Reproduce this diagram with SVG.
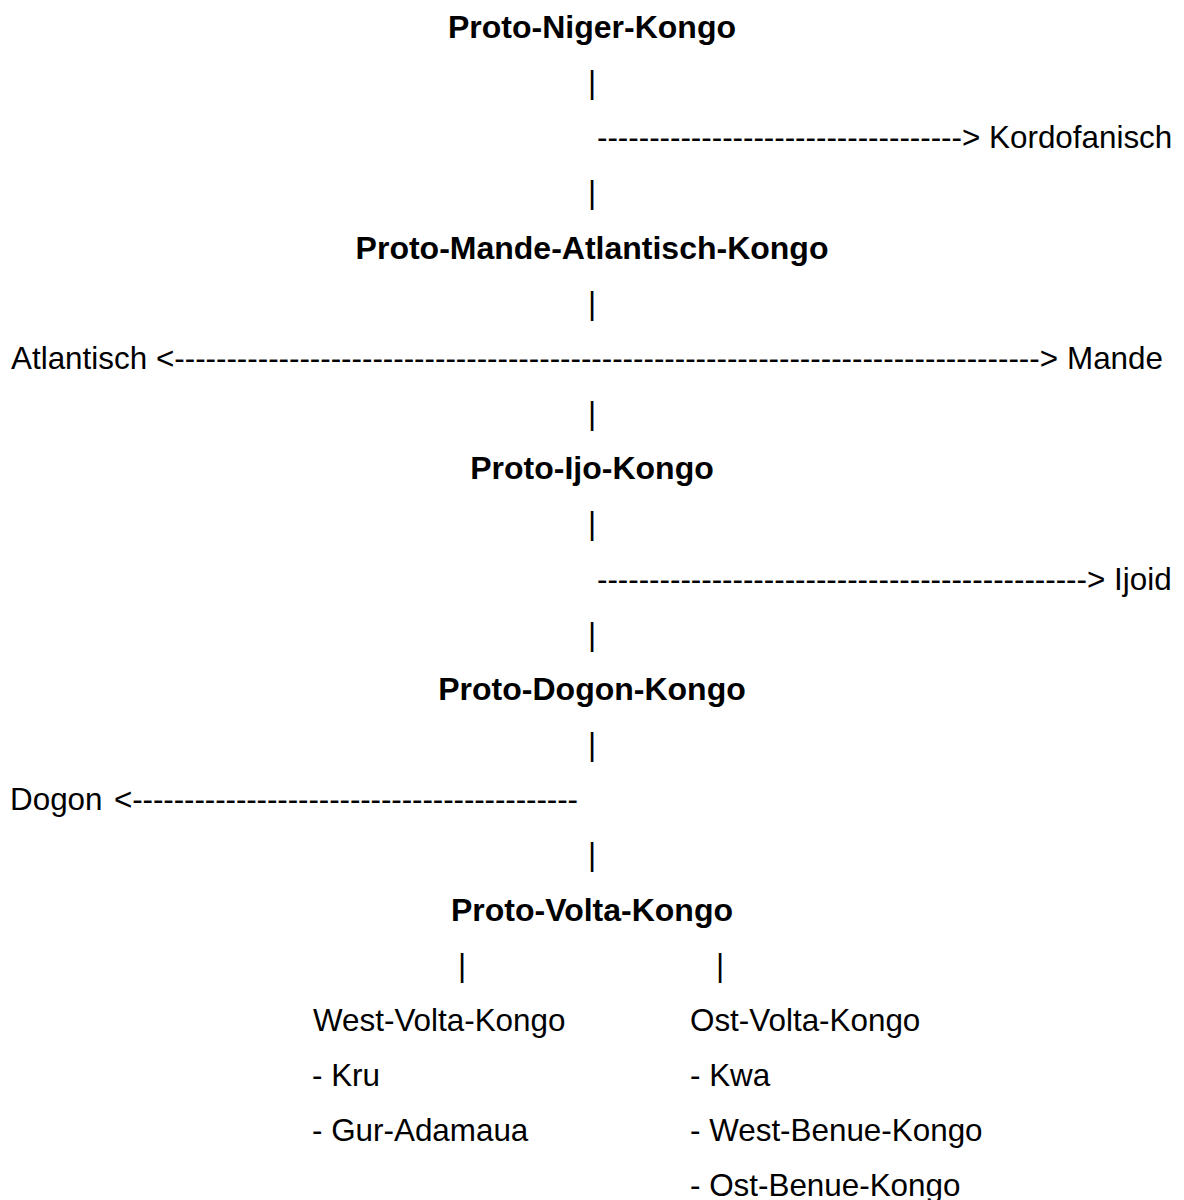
<svg xmlns="http://www.w3.org/2000/svg" width="1184" height="1200" viewBox="0 0 1184 1200">
<style>
text{font-family:"Liberation Sans",Arial,sans-serif;font-size:31.4px;fill:#000}
.b{font-weight:bold;text-anchor:middle;font-size:32px}
.p{text-anchor:middle}
</style>
<rect width="1184" height="1200" fill="#fff"/>
<g id="connectors">
<text class="p" x="592" y="92.5">|</text>
<text x="597" y="148" textLength="365" lengthAdjust="spacing">-----------------------------------</text>
<text class="p" x="592" y="203">|</text>
<text class="p" x="592" y="313.5">|</text>
<text x="156" y="368.5" textLength="902" lengthAdjust="spacing">&lt;-----------------------------------------------------------------------------------&gt;</text>
<text class="p" x="592" y="424">|</text>
<text class="p" x="592" y="534">|</text>
<text x="597" y="589.5" textLength="490" lengthAdjust="spacing">-----------------------------------------------</text>
<text class="p" x="592" y="644.5">|</text>
<text class="p" x="592" y="755">|</text>
<text x="114" y="810" textLength="464" lengthAdjust="spacing">&lt;-------------------------------------------</text>
<text class="p" x="592" y="865">|</text>
<text class="p" x="462" y="975.5">|</text>
<text class="p" x="720" y="975.5">|</text>
</g>
<g id="proto-niger-kongo"><text class="b" x="592" y="37.5">Proto-Niger-Kongo</text></g>
<g id="kordofanisch"><text x="962" y="148">&gt; Kordofanisch</text></g>
<g id="proto-mande-atlantisch-kongo"><text class="b" x="592" y="258.5">Proto-Mande-Atlantisch-Kongo</text></g>
<g id="atlantisch"><text x="11" y="368.5">Atlantisch</text></g>
<g id="mande"><text x="1067" y="368.5">Mande</text></g>
<g id="proto-ijo-kongo"><text class="b" x="592" y="479">Proto-Ijo-Kongo</text></g>
<g id="ijoid"><text x="1087" y="589.5">&gt; Ijoid</text></g>
<g id="proto-dogon-kongo"><text class="b" x="592" y="699.5">Proto-Dogon-Kongo</text></g>
<g id="dogon"><text x="10" y="810">Dogon</text></g>
<g id="proto-volta-kongo"><text class="b" x="592" y="920.5">Proto-Volta-Kongo</text></g>
<g id="west-volta-kongo">
<text x="313" y="1030.5">West-Volta-Kongo</text>
<text x="312" y="1085.5">- Kru</text>
<text x="312" y="1141">- Gur-Adamaua</text>
</g>
<g id="ost-volta-kongo">
<text x="690" y="1030.5">Ost-Volta-Kongo</text>
<text x="690" y="1085.5">- Kwa</text>
<text x="690" y="1141">- West-Benue-Kongo</text>
<text x="690" y="1196">- Ost-Benue-Kongo</text>
</g>
</svg>
